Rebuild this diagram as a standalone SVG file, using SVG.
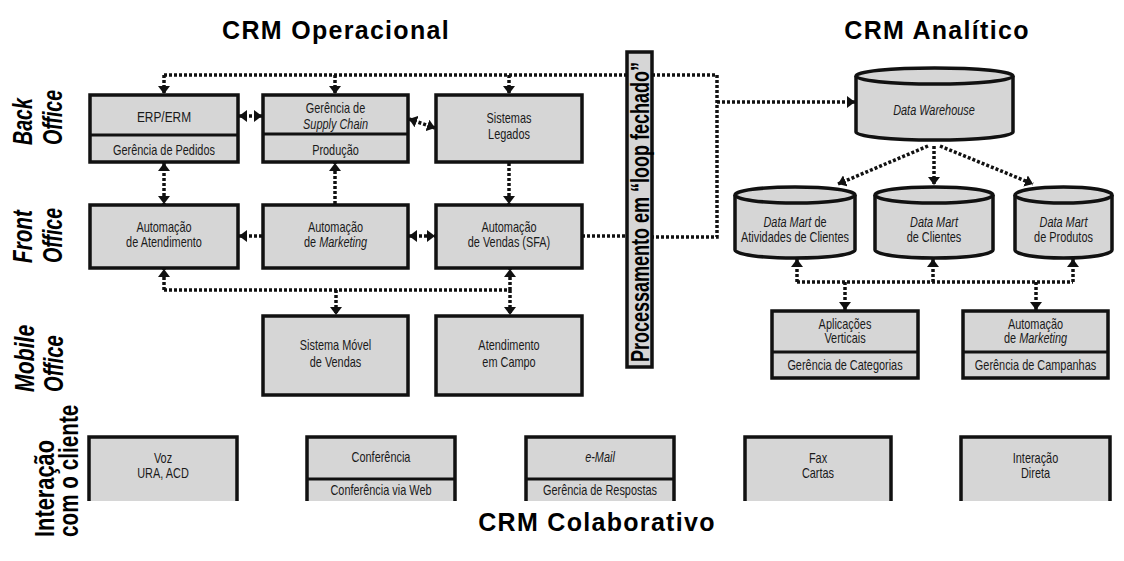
<svg xmlns="http://www.w3.org/2000/svg" width="1124" height="561" viewBox="0 0 1124 561">
<style>
.box{fill:#d6d6d6;stroke:#111;stroke-width:3.5}
.fill{fill:#d6d6d6}
.edge{fill:none;stroke:#111;stroke-width:3.5}
.div{stroke:#111;stroke-width:3}
.t{font-family:"Liberation Sans",Arial,sans-serif;font-size:14px;fill:#1a1a1a;text-anchor:middle}
.i{font-style:italic}
.title{font-family:"Liberation Sans",Arial,sans-serif;font-size:25px;font-weight:bold;fill:#000;text-anchor:middle;letter-spacing:1.3px}
.side{font-family:"Liberation Sans",Arial,sans-serif;font-size:28px;font-weight:bold;font-style:italic;fill:#000;text-anchor:start}
.side2{font-family:"Liberation Sans",Arial,sans-serif;font-size:28px;font-weight:bold;fill:#000;text-anchor:start}
.dl{fill:none;stroke:#111;stroke-width:3.5;stroke-dasharray:3 2}
</style>
<defs>
<marker id="ah" viewBox="0 0 8 12" refX="8" refY="6" markerWidth="8" markerHeight="12" markerUnits="userSpaceOnUse" orient="auto-start-reverse"><path d="M0,0 L8,6 L0,12 Z" fill="#111"/></marker>
</defs>

<text class="title" x="336" y="39">CRM Operacional</text>
<text class="title" x="937" y="39">CRM Analítico</text>
<text class="title" x="597" y="531">CRM Colaborativo</text>

<g id="label-back"><text class="side" transform="translate(32 145) rotate(-90) scale(.7 1)">Back</text><text class="side" transform="translate(62 145) rotate(-90) scale(.7 1)">Office</text></g>
<g id="label-front"><text class="side" transform="translate(32 263) rotate(-90) scale(.74 1)">Front</text><text class="side" transform="translate(62 263) rotate(-90) scale(.7 1)">Office</text></g>
<g id="label-mobile"><text class="side" transform="translate(34 392) rotate(-90) scale(.76 1)">Mobile</text><text class="side" transform="translate(63 392) rotate(-90) scale(.72 1)">Office</text></g>
<g id="label-interacao"><text class="side2" transform="translate(54 537) rotate(-90) scale(.78 1)">Interação</text><text class="side2" transform="translate(78 537) rotate(-90) scale(.74 1)">com o cliente</text></g>

<g id="connectors">
<path class="dl" d="M164,75 H627"/>
<path class="dl" d="M164,75 V94" marker-end="url(#ah)"/>
<path class="dl" d="M335,75 V94" marker-end="url(#ah)"/>
<path class="dl" d="M509,75 V94" marker-end="url(#ah)"/>
<path class="dl" d="M652,75 H717 V237 H652"/>
<path class="dl" d="M717,102 H855" marker-end="url(#ah)"/>
<path class="dl" d="M582,236 H627"/>
<path class="dl" d="M239,116 H262" marker-start="url(#ah)" marker-end="url(#ah)"/>
<path class="dl" d="M409,119 L435,128" marker-start="url(#ah)" marker-end="url(#ah)"/>
<path class="dl" d="M164,163 V204" marker-start="url(#ah)" marker-end="url(#ah)"/>
<path class="dl" d="M335,204 V163" marker-end="url(#ah)"/>
<path class="dl" d="M509,163 V204" marker-end="url(#ah)"/>
<path class="dl" d="M262,236 H239" marker-end="url(#ah)"/>
<path class="dl" d="M409,236 H435" marker-start="url(#ah)" marker-end="url(#ah)"/>
<path class="dl" d="M164,290 H510"/>
<path class="dl" d="M164,290 V269" marker-end="url(#ah)"/>
<path class="dl" d="M510,290 V269" marker-end="url(#ah)"/>
<path class="dl" d="M336,290 V315" marker-end="url(#ah)"/>
<path class="dl" d="M510,290 V315" marker-end="url(#ah)"/>
<path class="dl" d="M928,146 L838,184" marker-end="url(#ah)"/>
<path class="dl" d="M934,146 V185" marker-end="url(#ah)"/>
<path class="dl" d="M940,146 L1033,184" marker-end="url(#ah)"/>
<path class="dl" d="M797,282 H1073"/>
<path class="dl" d="M797,282 V259" marker-end="url(#ah)"/>
<path class="dl" d="M933,282 V259" marker-end="url(#ah)"/>
<path class="dl" d="M1073,282 V259" marker-end="url(#ah)"/>
<path class="dl" d="M845,282 V310" marker-end="url(#ah)"/>
<path class="dl" d="M1036,282 V310" marker-end="url(#ah)"/>
</g>

<g id="erp"><rect class="box" x="90" y="95" width="148" height="67"/><line class="div" x1="90" y1="135" x2="238" y2="135"/>
<text class="t" transform="translate(164 122) scale(.85 1)">ERP/ERM</text>
<text class="t" transform="translate(164 155) scale(.78 1)">Gerência de Pedidos</text></g>

<g id="supply"><rect class="box" x="263" y="95" width="145" height="67"/><line class="div" x1="263" y1="134" x2="408" y2="134"/>
<text class="t" transform="translate(335.5 113) scale(.78 1)"><tspan x="0">Gerência de</tspan><tspan x="0" dy="16" class="i">Supply Chain</tspan></text>
<text class="t" transform="translate(335.5 155) scale(.78 1)">Produção</text></g>

<g id="legados"><rect class="box" x="436" y="95" width="146" height="67"/>
<text class="t" transform="translate(509 123) scale(.78 1)"><tspan x="0">Sistemas</tspan><tspan x="0" dy="16">Legados</tspan></text></g>

<g id="atendimento"><rect class="box" x="90" y="205" width="148" height="63"/>
<text class="t" transform="translate(164 232) scale(.78 1)"><tspan x="0">Automação</tspan><tspan x="0" dy="15">de Atendimento</tspan></text></g>

<g id="marketing"><rect class="box" x="263" y="205" width="145" height="63"/>
<text class="t" transform="translate(335.5 232) scale(.78 1)"><tspan x="0">Automação</tspan><tspan x="0" dy="15">de <tspan class="i">Marketing</tspan></tspan></text></g>

<g id="sfa"><rect class="box" x="436" y="205" width="146" height="63"/>
<text class="t" transform="translate(509 232) scale(.78 1)"><tspan x="0">Automação</tspan><tspan x="0" dy="15">de Vendas (SFA)</tspan></text></g>

<g id="movel"><rect class="box" x="263" y="316" width="145" height="79"/>
<text class="t" transform="translate(335.5 350) scale(.78 1)"><tspan x="0">Sistema Móvel</tspan><tspan x="0" dy="17">de Vendas</tspan></text></g>

<g id="campo"><rect class="box" x="436" y="316" width="146" height="79"/>
<text class="t" transform="translate(509 350) scale(.78 1)"><tspan x="0">Atendimento</tspan><tspan x="0" dy="17">em Campo</tspan></text></g>

<g id="loop"><rect class="box" x="627" y="52" width="25" height="315"/>
<text class="side2" style="text-anchor:middle;font-size:25px" transform="translate(649 212) rotate(-90) scale(.72 1)">Processamento em “loop fechado”</text></g>

<g id="dw"><path class="box" d="M856,76 A78.5,8 0 0 1 1013,76 V132 A78.5,8 0 0 1 856,132 Z"/><path class="edge" d="M856,76 A78.5,8 0 0 0 1013,76"/>
<text class="t i" transform="translate(934 115) scale(.78 1)">Data Warehouse</text></g>

<g id="dm1"><path class="box" d="M735,195 A60,8 0 0 1 855,195 V250 A60,8 0 0 1 735,250 Z"/><path class="edge" d="M735,195 A60,8 0 0 0 855,195"/>
<text class="t" transform="translate(795 227) scale(.78 1)"><tspan x="0"><tspan class="i">Data Mart</tspan> de</tspan><tspan x="0" dy="15">Atividades de Clientes</tspan></text></g>

<g id="dm2"><path class="box" d="M875,195 A59,8 0 0 1 993,195 V250 A59,8 0 0 1 875,250 Z"/><path class="edge" d="M875,195 A59,8 0 0 0 993,195"/>
<text class="t" transform="translate(934 227) scale(.78 1)"><tspan x="0" class="i">Data Mart</tspan><tspan x="0" dy="15">de Clientes</tspan></text></g>

<g id="dm3"><path class="box" d="M1015,195 A48.5,8 0 0 1 1112,195 V250 A48.5,8 0 0 1 1015,250 Z"/><path class="edge" d="M1015,195 A48.5,8 0 0 0 1112,195"/>
<text class="t" transform="translate(1063.5 227) scale(.78 1)"><tspan x="0" class="i">Data Mart</tspan><tspan x="0" dy="15">de Produtos</tspan></text></g>

<g id="verticais"><rect class="box" x="772" y="311" width="146" height="67"/><line class="div" x1="772" y1="352" x2="918" y2="352"/>
<text class="t" transform="translate(845 329) scale(.78 1)"><tspan x="0">Aplicações</tspan><tspan x="0" dy="14">Verticais</tspan></text>
<text class="t" transform="translate(845 370) scale(.78 1)">Gerência de Categorias</text></g>

<g id="mkt2"><rect class="box" x="963" y="311" width="145" height="67"/><line class="div" x1="963" y1="352" x2="1108" y2="352"/>
<text class="t" transform="translate(1035.5 329) scale(.78 1)"><tspan x="0">Automação</tspan><tspan x="0" dy="14">de <tspan class="i">Marketing</tspan></tspan></text>
<text class="t" transform="translate(1035.5 370) scale(.78 1)">Gerência de Campanhas</text></g>

<g id="voz"><rect class="fill" x="89" y="437" width="148" height="64"/><path class="edge" d="M89,501 V437 H237 V501"/>
<text class="t" transform="translate(163 463) scale(.78 1)"><tspan x="0">Voz</tspan><tspan x="0" dy="15">URA, ACD</tspan></text></g>

<g id="conferencia"><rect class="fill" x="307" y="437" width="148" height="64"/><path class="edge" d="M307,501 V437 H455 V501"/><line class="div" x1="307" y1="479" x2="455" y2="479"/>
<text class="t" transform="translate(381 462) scale(.78 1)">Conferência</text>
<text class="t" transform="translate(381 495) scale(.78 1)">Conferência via Web</text></g>

<g id="email"><rect class="fill" x="526" y="437" width="148" height="64"/><path class="edge" d="M526,501 V437 H674 V501"/><line class="div" x1="526" y1="479" x2="674" y2="479"/>
<text class="t i" transform="translate(600 462) scale(.78 1)">e-Mail</text>
<text class="t" transform="translate(600 495) scale(.78 1)">Gerência de Respostas</text></g>

<g id="fax"><rect class="fill" x="745" y="437" width="146" height="64"/><path class="edge" d="M745,501 V437 H891 V501"/>
<text class="t" transform="translate(818 463) scale(.78 1)"><tspan x="0">Fax</tspan><tspan x="0" dy="15">Cartas</tspan></text></g>

<g id="direta"><rect class="fill" x="961" y="437" width="149" height="64"/><path class="edge" d="M961,501 V437 H1110 V501"/>
<text class="t" transform="translate(1035.5 463) scale(.78 1)"><tspan x="0">Interação</tspan><tspan x="0" dy="15">Direta</tspan></text></g>
</svg>
